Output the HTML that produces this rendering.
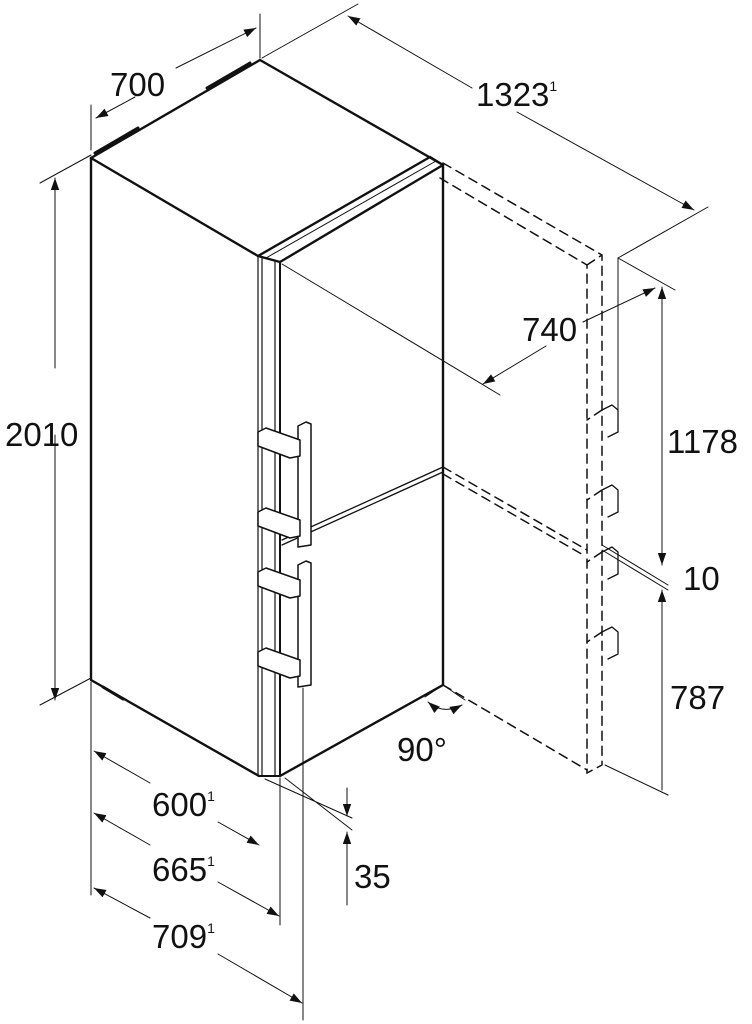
<!DOCTYPE html>
<html><head><meta charset="utf-8"><style>
html,body{margin:0;padding:0;background:#fff}
svg{display:block}
text{font-family:"Liberation Sans",sans-serif;fill:#111}
</style></head><body>
<svg width="752" height="1024" viewBox="0 0 752 1024" xmlns="http://www.w3.org/2000/svg">
<defs>
<marker id="a" viewBox="0 0 10 10" refX="10" refY="5" markerWidth="12" markerHeight="12" markerUnits="userSpaceOnUse" orient="auto-start-reverse"><path d="M0,1.5 L10,5 L0,8.5 z" fill="#111"/></marker>
</defs>
<g fill="none" stroke="#111" stroke-linecap="round" stroke-linejoin="round">
<!-- body -->
<path d="M91,158 L260,60 L443,165 L443,685" stroke-width="2.4"/>
<path d="M91,158 L258,256" stroke-width="2.4"/>
<path d="M91,158 L91,680 L259,776" stroke-width="2.4"/>
<path d="M280,776 L443,685" stroke-width="2.4"/>
<path d="M95,153 L138,128 M207,88 L250,63" stroke-width="3"/>
<path d="M103,687 L123,699" stroke-width="3"/>
<!-- door top -->
<path d="M258,256 L430,157 L443,165 L280,262 Z" stroke-width="2.4"/>
<path d="M266,258 L436,161" stroke-width="1"/>
<path d="M258,256 L258,776 M262,258 L262,776 M275,262 L275,776" stroke-width="1.2"/>
<path d="M280,262 L280,776" stroke-width="2"/>
<path d="M259,776 L280,776" stroke-width="2"/>
<path d="M282,540 L443,467 M282,545 L443,472" stroke-width="1.3"/>
<!-- handles -->
<path d="M298,547 L298,426 L306,422 L311,424 L311,545 Z" stroke-width="1.5" fill="#fff"/>
<path d="M258,432 L266,428 L300,440 L300,456 L290,458 L258,446 Z" stroke-width="1.5" fill="#fff"/>
<path d="M258,512 L266,508 L300,520 L300,536 L290,538 L258,526 Z" stroke-width="1.5" fill="#fff"/>
<path d="M298,687 L298,565 L306,561 L311,563 L311,685 Z" stroke-width="1.5" fill="#fff"/>
<path d="M258,572 L266,568 L300,580 L300,596 L290,598 L258,586 Z" stroke-width="1.5" fill="#fff"/>
<path d="M258,652 L266,648 L300,660 L300,676 L290,678 L258,666 Z" stroke-width="1.5" fill="#fff"/>
<!-- dashed open door -->
<g stroke-width="1.5" stroke-dasharray="9,6">
<path d="M443,163 L602,255 L602,765 L587,773 M587,265 L602,255"/>
<path d="M440,178 L587,265 L587,773"/>
<path d="M443,467 L587,550 M443,474 L585,556"/>
<path d="M443,685 L587,770"/>
<path d="M602,410 L587,420 M602,490 L587,500 M602,552 L587,562 M602,632 L587,642" />
</g>
<path d="M602,410 L612,405 L618,410 L618,432 L608,437 M602,490 L612,485 L618,490 L618,512 L608,517 M602,552 L612,547 L618,552 L618,574 L608,579 M602,632 L612,627 L618,632 L618,654 L608,659" stroke-width="1.3"/>
<!-- dimension lines -->
<g stroke-width="1">
<path d="M260,58 L260,14"/>
<path d="M91,150 L91,105"/>
<path d="M176,68 L256,28" marker-end="url(#a)"/>
<path d="M135,97 L96,118" marker-end="url(#a)"/>
<path d="M262,58 L358,4"/>
<path d="M472,88 L348,16" marker-end="url(#a)"/>
<path d="M517,112 L694,210" marker-end="url(#a)"/>
<path d="M618,258 L708,207"/>
<path d="M618,258 L618,410"/>
<path d="M618,258 L675,290"/>
<path d="M40,183 L91,155 M40,705 L91,678"/>
<path d="M55,368 L55,178" marker-end="url(#a)"/>
<path d="M55,435 L55,700" marker-end="url(#a)"/>
<!-- 740 -->
<path d="M282,264 L500,395"/>
<path d="M583,322 L655,288" marker-end="url(#a)"/>
<path d="M546,346 L483,384" marker-end="url(#a)"/>
<!-- right vertical -->
<path d="M662,565 L662,287" marker-start="url(#a)" marker-end="url(#a)"/>
<path d="M662,590 L662,790" marker-start="url(#a)"/>
<path d="M602,545 L668,585 M602,550 L668,590"/>
<path d="M605,765 L668,795"/>
<!-- bottom -->
<path d="M91,682 L91,895"/>
<path d="M280,778 L280,925"/>
<path d="M303,688 L303,1020"/>
<path d="M150,783 L94,751" marker-end="url(#a)"/>
<path d="M218,822 L259,845" marker-end="url(#a)"/>
<path d="M150,845 L94,813" marker-end="url(#a)"/>
<path d="M218,882 L279,916" marker-end="url(#a)"/>
<path d="M150,918 L94,888" marker-end="url(#a)"/>
<path d="M218,954 L302,1003" marker-end="url(#a)"/>
<path d="M265,779 L352,818 M285,778 L352,830"/>
<path d="M347,788 L347,816" marker-end="url(#a)"/>
<path d="M347,905 L347,832" marker-end="url(#a)"/>
<path d="M443,685 L425,697 M443,685 L465,700"/>
<path d="M428,702 Q443,715 462,705" marker-start="url(#a)" marker-end="url(#a)"/>
</g>
</g>
<text x="110" y="96" font-size="33">700</text>
<text x="476" y="106" font-size="33">1323<tspan font-size="14" dy="-15">1</tspan></text>
<text x="5" y="446" font-size="33">2010</text>
<text x="522" y="341" font-size="33">740</text>
<text x="667" y="453" font-size="33">1178</text>
<text x="683" y="590" font-size="33">10</text>
<text x="670" y="709" font-size="33">787</text>
<text x="397" y="761" font-size="33">90°</text>
<text x="152" y="816" font-size="33">600<tspan font-size="14" dy="-15">1</tspan></text>
<text x="152" y="881" font-size="33">665<tspan font-size="14" dy="-15">1</tspan></text>
<text x="152" y="948" font-size="33">709<tspan font-size="14" dy="-15">1</tspan></text>
<text x="354" y="888" font-size="33">35</text>
</svg>
</body></html>
